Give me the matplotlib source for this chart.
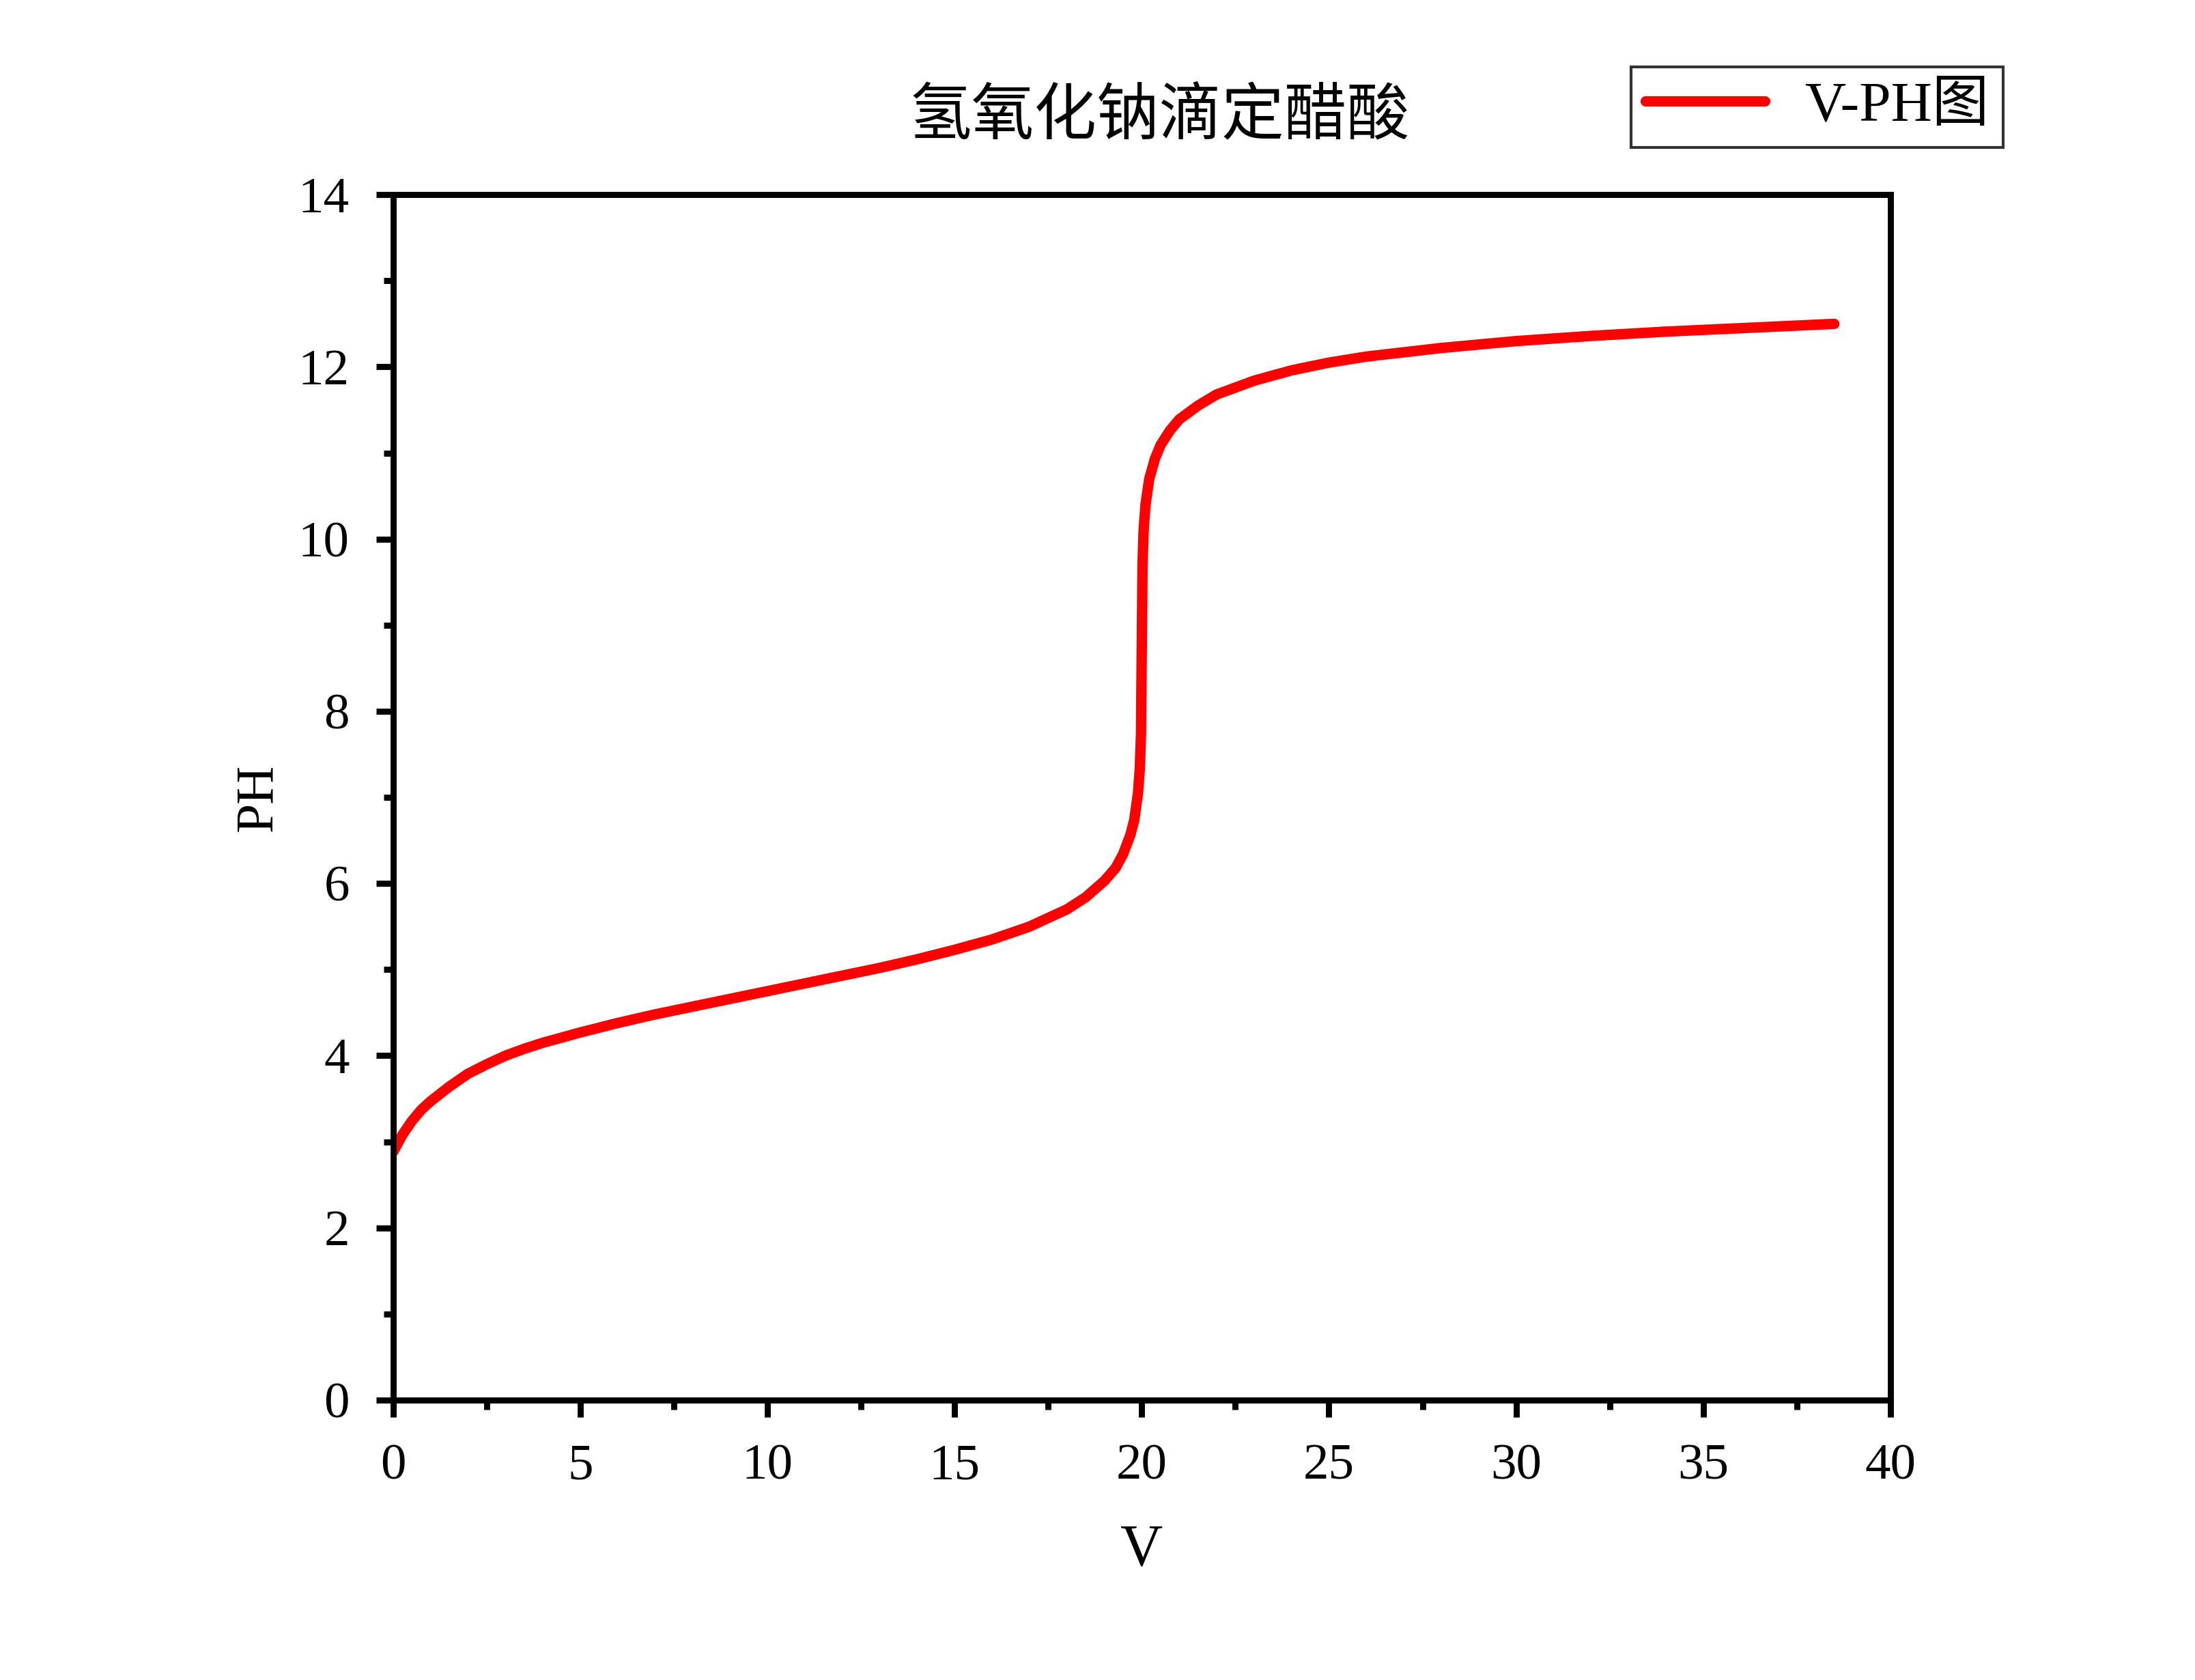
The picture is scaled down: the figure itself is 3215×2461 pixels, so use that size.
import numpy as np
import matplotlib
matplotlib.use("Agg")
import matplotlib.pyplot as plt
from matplotlib.ticker import MultipleLocator

plt.rcParams['font.family'] = ['Liberation Serif', 'Noto Sans CJK SC', 'DejaVu Sans']
plt.rcParams['axes.unicode_minus'] = False

# NaOH volume (mL) and pH
V = [0, 0.25, 0.5, 0.75, 1, 1.5, 2, 2.5, 3, 3.5, 4, 5, 6, 7, 8, 9, 10, 11,
     12, 13, 14, 15, 16, 17, 18, 18.5, 19, 19.3, 19.5, 19.7, 19.8, 19.9,
     19.95, 19.98, 20.0, 20.02, 20.05, 20.1, 20.2, 20.35, 20.5, 20.75, 21,
     21.5, 22, 23, 24, 25, 26, 28, 30, 32, 34, 36, 38.5]
PH = [2.88, 3.08, 3.24, 3.37, 3.47, 3.64, 3.79, 3.90, 4.00, 4.08, 4.15, 4.27,
      4.38, 4.48, 4.57, 4.66, 4.75, 4.84, 4.93, 5.02, 5.12, 5.23, 5.35, 5.50,
      5.70, 5.84, 6.03, 6.18, 6.34, 6.57, 6.74, 7.05, 7.35, 7.74, 8.72, 9.70,
      10.10, 10.40, 10.70, 10.93, 11.09, 11.26, 11.39, 11.55, 11.68, 11.84,
      11.96, 12.05, 12.12, 12.22, 12.30, 12.36, 12.41, 12.45, 12.50]

fig = plt.figure(figsize=(16.08, 12.305), dpi=200)
ax = fig.add_axes([0.179, 0.1666, 0.682, 0.7175])

ax.plot(V, PH, color='#ff0000', lw=5.5, label='V-PH图',
        solid_capstyle='round', solid_joinstyle='round')

ax.set_xlim(0, 40)
ax.set_ylim(0, 14)
ax.xaxis.set_major_locator(MultipleLocator(5))
ax.xaxis.set_minor_locator(MultipleLocator(2.5))
ax.yaxis.set_major_locator(MultipleLocator(2))
ax.yaxis.set_minor_locator(MultipleLocator(1))

for s in ax.spines.values():
    s.set_linewidth(3.2)
ax.tick_params(which='major', direction='out', length=9, width=3.2,
               labelsize=27, pad=14)
ax.tick_params(which='minor', direction='out', length=5, width=3.2)
ax.tick_params(top=False, right=False, which='both')

ax.set_xlabel('V', fontsize=31, labelpad=18)
ax.set_ylabel('PH', fontsize=28, labelpad=8)

fig.text(0.528, 0.930, '氢氧化钠滴定醋酸', fontsize=33, ha='center', va='center')

leg = ax.legend(loc='center', bbox_to_anchor=(0.951, 1.0725), fontsize=30,
                frameon=True, fancybox=False, edgecolor='black',
                handlelength=2.1, handletextpad=0.7, borderpad=0.25,
                borderaxespad=0)
leg.get_frame().set_linewidth(1.5)

fig.savefig('out.png', dpi=200, facecolor='white')
